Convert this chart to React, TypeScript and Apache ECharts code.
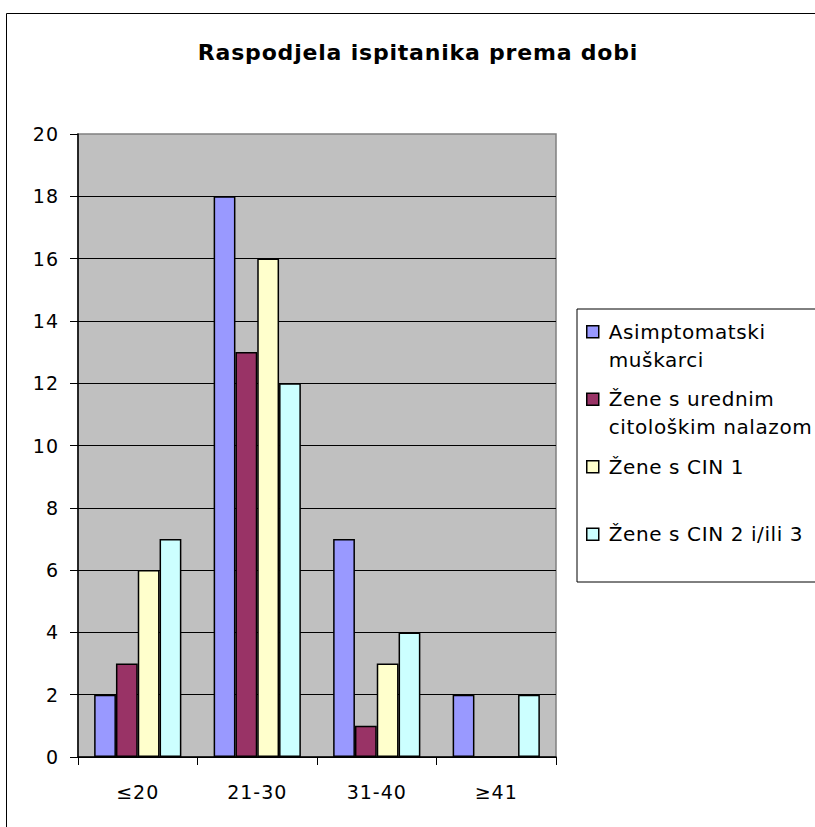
import { useEffect, useRef } from 'react';
import * as echarts from 'echarts';

const titleText = 'Raspodjela ispitanika prema dobi';
const categories = ['≤20', '21-30', '31-40', '≥41'];
const seriesNames = [
  'Asimptomatski muškarci',
  'Žene s urednim citološkim nalazom',
  'Žene s CIN 1',
  'Žene s CIN 2 i/ili 3',
];
const legendLabels = [
  'Asimptomatski\nmuškarci',
  'Žene s urednim\ncitološkim nalazom',
  'Žene s CIN 1\n ',
  'Žene s CIN 2 i/ili 3\n ',
];
const asimptomatskiMuskarci = [2, 18, 7, 2];
const zeneUredniNalaz = [3, 13, 1, 0];
const zeneCin1 = [6, 16, 3, 0];
const zeneCin23 = [7, 12, 4, 2];
const seriesValues = [asimptomatskiMuskarci, zeneUredniNalaz, zeneCin1, zeneCin23];
const seriesColors = ['#9999FF', '#993366', '#FFFFCC', '#CCFFFF'];
const yMin = 0;
const yMax = 20;
const yInterval = 2;

const FONT = '"DejaVu Sans", "Liberation Sans", sans-serif';

export default function App() {
  const ref = useRef<HTMLDivElement>(null);

  useEffect(() => {
    if (!ref.current) return;
    const chart = echarts.init(ref.current, null, { renderer: 'svg' });
    const option: any = {
      animation: false,
      backgroundColor: '#ffffff',
      textStyle: { fontFamily: FONT },
      title: {
        text: titleText,
        left: 418,
        top: 41,
        padding: 0,
        textAlign: 'center',
        textStyle: { fontFamily: FONT, fontSize: 22, fontWeight: 'bold', color: '#000' },
      },
      graphic: [
        {
          type: 'rect',
          z: -10,
          silent: true,
          shape: { x: 6.5, y: 13.5, width: 1000, height: 1000 },
          style: { fill: 'none', stroke: '#000', lineWidth: 1 },
        },
      ],
      legend: {
        orient: 'vertical',
        left: 577,
        top: 309,
        padding: [8, 60, 5, 9],
        backgroundColor: '#fff',
        borderColor: '#000',
        borderWidth: 1,
        itemWidth: 17,
        itemHeight: 56,
        itemGap: 10,
        icon: 'path://M0,0M0,8L12,8L12,20L0,20ZM17,56',
        itemStyle: { borderColor: '#000', borderWidth: 1.5 },
        data: seriesNames,
        formatter: (name: string) => legendLabels[seriesNames.indexOf(name)],
        textStyle: { fontFamily: FONT, fontSize: 20, lineHeight: 28, color: '#000' },
      },
      grid: {
        left: 78,
        top: 134,
        width: 478,
        height: 623,
        show: true,
        backgroundColor: '#C0C0C0',
        borderColor: '#808080',
        borderWidth: 1.5,
        containLabel: false,
        outerBoundsMode: 'none',
      },
      xAxis: {
        type: 'category',
        data: categories,
        axisLine: { show: true, lineStyle: { color: '#000', width: 1.5 } },
        axisTick: { show: true, length: 8, interval: 0, alignWithLabel: false, lineStyle: { color: '#000', width: 1 } },
        axisLabel: { margin: 25, fontSize: 19, color: '#000', fontFamily: FONT, interval: 0 },
        splitLine: { show: false },
      },
      yAxis: {
        type: 'value',
        min: yMin,
        max: yMax,
        interval: yInterval,
        axisLine: { show: true, lineStyle: { color: '#000', width: 1.5 } },
        axisTick: { show: true, length: 8, lineStyle: { color: '#000', width: 1 } },
        axisLabel: { margin: 19, fontSize: 19, color: '#000', fontFamily: FONT },
        splitLine: { show: true, showMaxLine: false, lineStyle: { color: '#000', width: 1 } },
      },
      series: seriesNames.map((name, i) => ({
        name,
        type: 'bar',
        data: seriesValues[i],
        barGap: '0%',
        barCategoryGap: '27%',
        itemStyle: { color: seriesColors[i], borderColor: '#000', borderWidth: 1.5 },
      })),
    };
    chart.setOption(option);
    return () => chart.dispose();
  }, []);

  return (
    <>
      <style>{`
        #chart text[style*="22px"] { letter-spacing: 0.8px; }
        #chart text[style*="20px"] { letter-spacing: 0.6px; }
        #chart text[style*="19px"] { letter-spacing: 1px; }
      `}</style>
      <div
        id="chart"
        ref={ref}
        style={{ position: 'absolute', left: 0, top: 0, width: 815, height: 827 }}
      />
    </>
  );
}
